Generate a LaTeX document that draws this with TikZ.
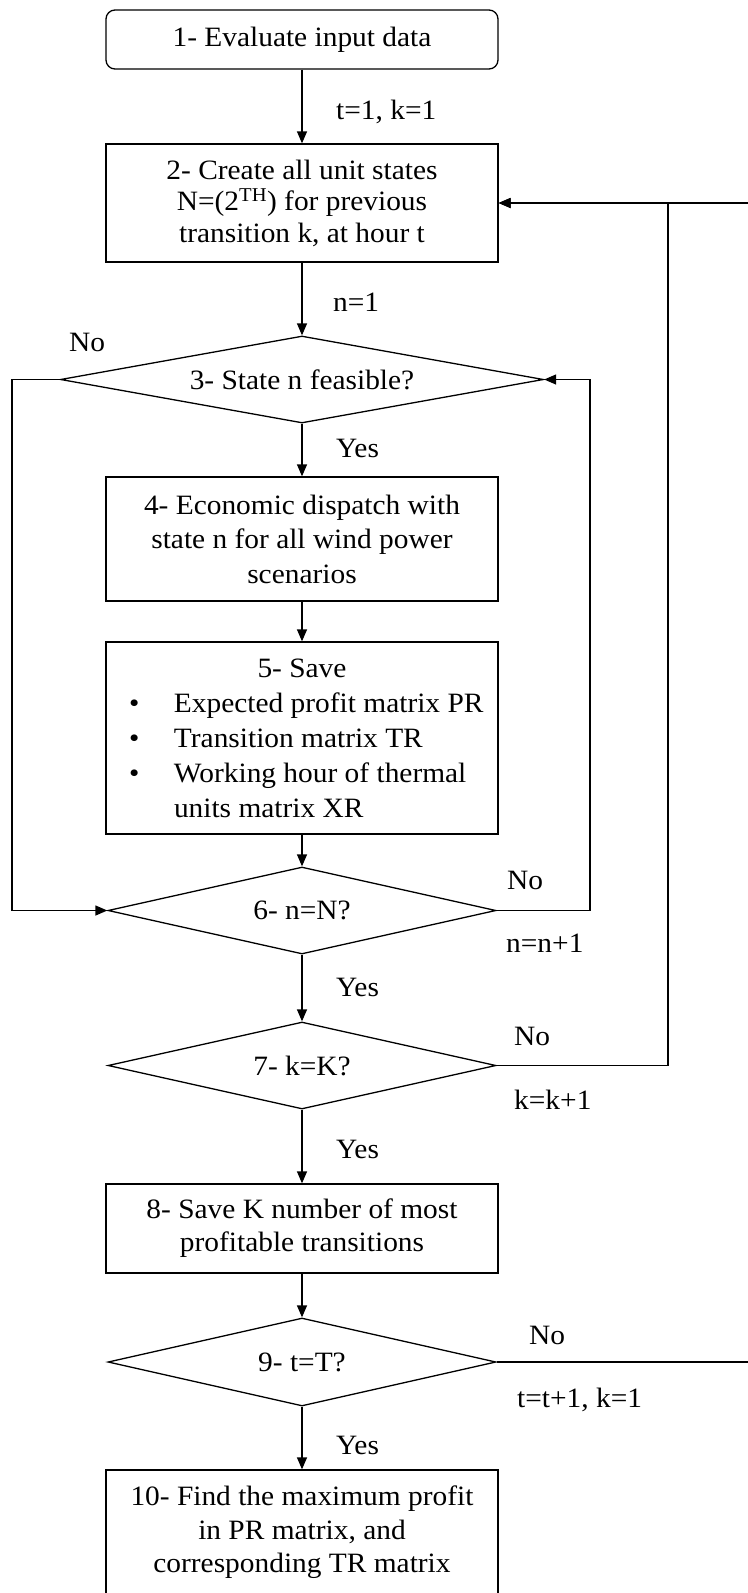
\documentclass[tikz,border=0pt]{standalone}
\usepackage{fontspec}
\setmainfont{Liberation Serif}[FakeStretch=1.05]
\usetikzlibrary{shapes.geometric,arrows.meta}
\begin{document}
\begin{tikzpicture}[x=1pt,y=-1pt,
  every node/.style={font=\fontsize{28}{33.5}\selectfont},
  stepbox/.style={draw, line width=1.3pt, minimum width=392pt, align=center, inner sep=0pt},
  decision/.style={draw, diamond, line width=1.3pt, inner sep=0pt},
  flow/.style={line width=1.3pt, -{Triangle[length=12pt,width=10pt]}},
  link/.style={line width=1.3pt},
  lbl/.style={anchor=west, inner sep=0pt}]
\useasboundingbox (0,0) rectangle (747,1593);
\fill[white] (0,0) rectangle (747,1593);

% process steps
\node[stepbox, rounded corners=9pt, minimum height=59pt] (b1) at (302,39.5) {1- Evaluate input data};
\node[stepbox, minimum height=118pt, font=\fontsize{28}{31.5}\selectfont] (b2) at (302,203)
  {2- Create all unit states\\ N=(2\textsuperscript{TH}) for previous\\ transition k, at hour t};
\node[decision, minimum width=483pt, minimum height=87pt, aspect=5.55] (d3) at (302,379.5) {3- State n feasible?};
\node[stepbox, minimum height=124pt, font=\fontsize{28}{34.5}\selectfont] (b4) at (302,539)
  {4- Economic dispatch with\\ state n for all wind power\\ scenarios};
\node[stepbox, minimum height=192pt, align=left, font=\fontsize{28}{35}\selectfont] (b5) at (302,738)
  {\makebox[346pt]{5- Save}\\
   \makebox[346pt][l]{\makebox[45pt][l]{\textbullet}Expected profit matrix PR}\\
   \makebox[346pt][l]{\makebox[45pt][l]{\textbullet}Transition matrix TR}\\
   \makebox[346pt][l]{\makebox[45pt][l]{\textbullet}Working hour of thermal}\\
   \makebox[346pt][l]{\hspace*{45pt}units matrix XR}};
\node[decision, minimum width=388pt, minimum height=87pt, aspect=4.46] (d6) at (302,910.5) {6- n=N?};
\node[decision, minimum width=388pt, minimum height=87pt, aspect=4.46] (d7) at (302,1065.5) {7- k=K?};
\node[stepbox, minimum height=89pt, font=\fontsize{28}{33}\selectfont] (b8) at (302,1228.5)
  {8- Save K number of most\\ profitable transitions};
\node[decision, minimum width=388pt, minimum height=88pt, aspect=4.41] (d9) at (302,1362) {9- t=T?};
\node[stepbox, minimum height=125pt] (b10) at (302,1532.5)
  {10- Find the maximum profit\\ in PR matrix, and\\ corresponding TR matrix};

% bend points of the loops
\coordinate (l3) at (12,379.5);
\coordinate (r6) at (590,910.5);
\coordinate (j2) at (668,203);
\coordinate (r9) at (752,1362);
\coordinate (r2) at (752,203);

% main flow
\draw[flow] (b1.south) -- (b2.north);
\draw[flow] (b2.south) -- (d3.north);
\draw[flow] (d3.south) -- (b4.north);
\draw[flow] (b4.south) -- (b5.north);
\draw[flow] (b5.south) -- (d6.north);
\draw[flow] (d6.south) -- (d7.north);
\draw[flow] (d7.south) -- (b8.north);
\draw[flow] (b8.south) -- (d9.north);
\draw[flow] (d9.south) -- (b10.north);

% loops
\draw[flow] (d3.west) -- (l3) |- (d6.west);
\draw[flow] (d6.east) -- (r6) |- (d3.east);
\draw[flow] (d7.east) -| (j2) -- (b2.east);
\draw[flow] (d9.east) -- (r9) -- (r2) -- (b2.east);

% connector labels
\node[lbl] (t1) at (336,112) {t=1, k=1};
\node[lbl] (n1) at (333,302) {n=1};
\node[lbl] (no3) at (69,342) {No};
\node[lbl] (yes3) at (336,448) {Yes};
\node[lbl] (no6) at (507,880) {No};
\node[lbl] (inc6) at (506,943) {n=n+1};
\node[lbl] (yes6) at (336,987) {Yes};
\node[lbl] (no7) at (514,1036) {No};
\node[lbl] (inc7) at (514,1100) {k=k+1};
\node[lbl] (yes7) at (336,1149) {Yes};
\node[lbl] (no9) at (529,1335) {No};
\node[lbl] (inc9) at (517,1400) {t=t+1, k=1};
\node[lbl] (yes9) at (336,1445) {Yes};
\end{tikzpicture}
\end{document}
